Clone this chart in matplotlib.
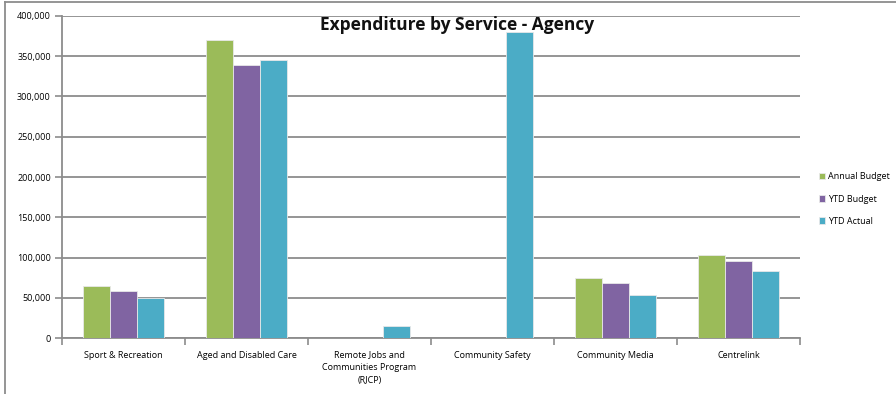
import numpy as np
import matplotlib
matplotlib.use('Agg')
import matplotlib.pyplot as plt
from matplotlib.lines import Line2D
from matplotlib.ticker import FuncFormatter, FixedLocator

categories = ['Sport & Recreation', 'Aged and Disabled Care',
              'Remote Jobs and\nCommunities Program\n(RJCP)',
              'Community Safety', 'Community Media', 'Centrelink']
series_names = ['Annual Budget', 'YTD Budget', 'YTD Actual']
annual_budget = [64000, 370000, 0, 0, 74000, 103000]
ytd_budget = [59000, 339500, 0, 0, 68500, 95500]
ytd_actual = [49500, 345000, 14500, 380000, 53000, 83000]
colors = ['#9BBB59', '#8064A2', '#4BACC6']

plt.rcParams['font.family'] = ['Open Sans', 'DejaVu Sans']

fig = plt.figure(figsize=(8.96, 3.94), dpi=100)
ax = fig.add_axes([62/896, 1 - 338/394, (800 - 62)/896, (338 - 16)/394])

x = np.arange(len(categories))
w = 0.222
for i, (vals, name) in enumerate(zip([annual_budget, ytd_budget, ytd_actual], series_names)):
    ax.bar(x + (i - 1) * w, vals, width=w, color=colors[i], label=name,
           edgecolor='#e8e8e8', linewidth=0.6, zorder=3)

ax.set_xlim(-0.5, len(categories) - 0.5)
ax.set_ylim(0, 400000)
ax.set_yticks(np.arange(0, 400001, 50000))
ax.yaxis.set_major_formatter(FuncFormatter(lambda v, p: '{:,.0f}'.format(v)))
ax.grid(axis='y', color='#8c8c8c', linewidth=1.3, zorder=0)

ax.set_xticks(x)
ax.set_xticklabels(categories, fontsize=6.5, linespacing=1.5)
ax.tick_params(axis='x', length=0, pad=9)
ax.xaxis.set_minor_locator(FixedLocator(np.arange(-0.5, len(categories), 1)))
ax.tick_params(axis='x', which='minor', length=5, color='#8c8c8c', width=1.2)
ax.tick_params(axis='y', labelsize=6.5, length=5, color='#8c8c8c', width=1.2, pad=3)

for s in ['top', 'right']:
    ax.spines[s].set_visible(False)
ax.spines['left'].set_color('#8c8c8c')
ax.spines['left'].set_linewidth(1.3)
ax.spines['bottom'].set_color('#8c8c8c')
ax.spines['bottom'].set_linewidth(1.3)

fig.text(457/896, 1 - 25/394, 'Expenditure by Service - Agency', ha='center', va='center',
         fontsize=12.5, fontweight='bold', color='#111111')

leg = fig.legend(loc='center left', bbox_to_anchor=(815/896, 1 - 199/394), frameon=False,
                 fontsize=6.5, handlelength=0.7, handleheight=0.7, handletextpad=0.3,
                 labelspacing=1.45, borderaxespad=0)

# outer chart border (top and left visible)
fig.add_artist(Line2D([5/896, 1], [1 - 2/394, 1 - 2/394], color='#8c8c8c', linewidth=1.3))
fig.add_artist(Line2D([5/896, 5/896], [0, 1 - 2/394], color='#8c8c8c', linewidth=1.3))

fig.savefig('out.png', dpi=100)
